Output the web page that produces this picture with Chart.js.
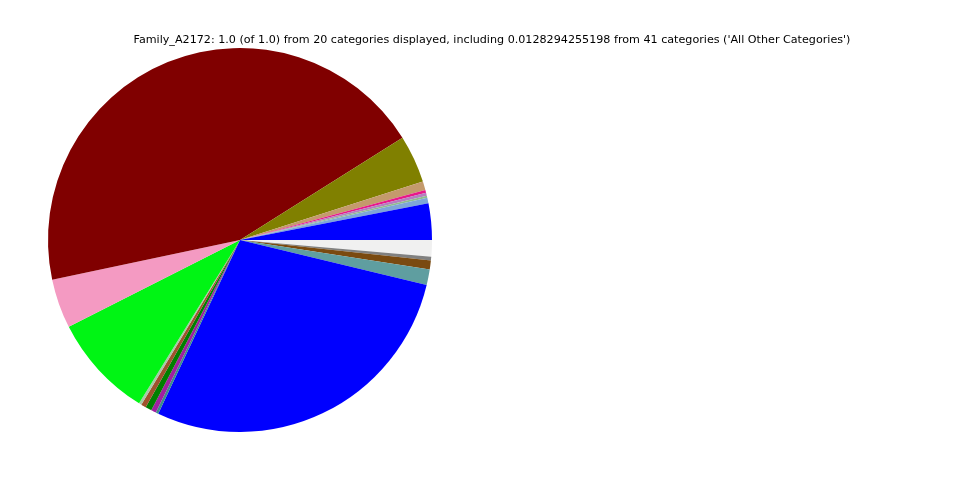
<!DOCTYPE html>
<html>
<head>
<meta charset="utf-8">
<script src="https://cdn.jsdelivr.net/npm/chart.js@4/dist/chart.umd.min.js"></script>
<style>
  html, body { margin: 0; padding: 0; background: #ffffff; }
  #wrap { position: relative; width: 960px; height: 480px; }
  #title { position: absolute; left: 0; width: 984px; top: 33px; text-align: center;
           font-family: "DejaVu Sans", sans-serif; font-size: 11.15px; color: #000; white-space: nowrap; }
  canvas { position: absolute; left: 0; top: 0; }
</style>
</head>
<body>
<div id="wrap">
  <canvas id="c" width="960" height="480"></canvas>
  <div id="title">Family_A2172: 1.0 (of 1.0) from 20 categories displayed, including 0.0128294255198 from 41 categories ('All Other Categories')</div>
</div>
<script>
// Slices listed counter-clockwise from 3 o'clock (matplotlib order)
const categories = [
  "Category 1", "Category 2", "Category 3", "Category 4", "Category 5",
  "Category 6", "Category 7", "Category 8", "Category 9", "Category 10",
  "Category 11", "Category 12", "Category 13", "Category 14", "Category 15",
  "Category 16", "Category 17", "Category 18", "Category 19", "All Other Categories"
];
const shares = [
  0.0306, 0.0047, 0.0017, 0.0025, 0.0025,
  0.0072, 0.0403, 0.4439, 0.0414, 0.0872,
  0.0022, 0.0042, 0.0053, 0.0042, 0.0022,
  0.2825, 0.0131, 0.0075, 0.0031, 0.0139
];
const sliceColors = [
  "#0000ff", "#7ea6d8", "#8fbc8f", "#b57ec0", "#e8188a",
  "#c49a6c", "#808000", "#800000", "#f49ac2", "#00f514",
  "#a8c8a8", "#a0522d", "#008000", "#a020a0", "#3a8c8c",
  "#0000ff", "#5f9ea0", "#7a4a10", "#808080", "#f0f0f0"
];

// Chart.js draws clockwise from the top; reverse and rotate to match CCW from 3 o'clock
const labelsCW = categories.slice().reverse();
const dataCW = shares.slice().reverse();
const colorsCW = sliceColors.slice().reverse();

new Chart(document.getElementById("c"), {
  type: "pie",
  data: {
    labels: labelsCW,
    datasets: [{
      data: dataCW,
      backgroundColor: colorsCW,
      borderWidth: 0
    }]
  },
  options: {
    responsive: false,
    animation: false,
    rotation: 90,
    layout: { padding: { left: 48, top: 48, right: 528, bottom: 48 } },
    plugins: { legend: { display: false }, tooltip: { enabled: false }, title: { display: false } }
  }
});
</script>
</body>
</html>
